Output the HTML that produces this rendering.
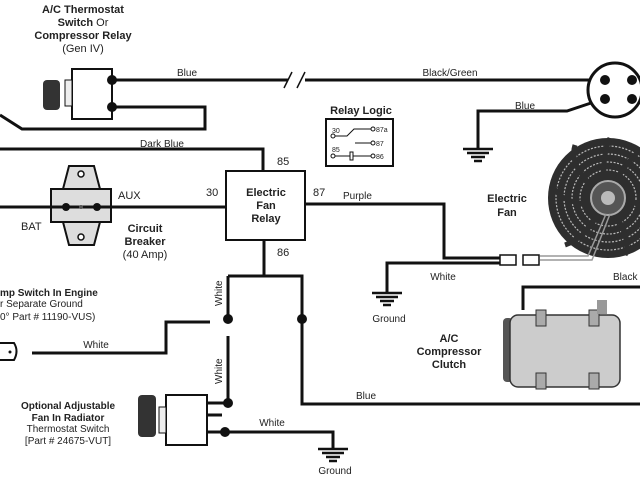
<!DOCTYPE html>
<html><head><style>
html,body{margin:0;padding:0;background:#fff}
svg{display:block}
text{font-family:"Liberation Sans",sans-serif;fill:#222}
.b{font-weight:bold}
</style></head><body>
<svg width="640" height="480" viewBox="0 0 640 480" xmlns="http://www.w3.org/2000/svg">
<g font-size="11" text-anchor="middle">
<text x="83" y="13" class="b">A/C Thermostat</text>
<text x="83" y="26"><tspan class="b">Switch</tspan> Or</text>
<text x="83" y="39" class="b">Compressor Relay</text>
<text x="83" y="52">(Gen IV)</text>
</g>
<g stroke="#111" stroke-width="3" fill="none">
<path d="M112 80H288M305 80H600"/>
<path d="M112 107H205V129H22L0 115"/>
<path d="M0 149H263V171"/>
<path d="M0 207H226"/>
<path d="M305 204H444V258H500"/>
<path d="M500 263H387V292"/>
<path d="M600 100L567 111H478V148"/>
<path d="M264 240V276M228 276H302V404H640"/>
<path d="M228 276V319M228 336V403H207"/>
<path d="M210 322H166V353H32"/>
<path d="M207 432H333V448"/>
<path d="M207 415H222"/>
<path d="M523 310V287H640"/>
</g>
<g stroke="#111" stroke-width="1.5"><path d="M284 88L292 72M297 88L305 72"/></g>
<rect x="72" y="69" width="40" height="50" fill="#fff" stroke="#111" stroke-width="2"/>
<rect x="65" y="80" width="7" height="26" fill="#eee" stroke="#111"/>
<rect x="43" y="80" width="17" height="30" rx="4" fill="#333"/>
<circle cx="112" cy="80" r="5" fill="#111"/><circle cx="112" cy="107" r="5" fill="#111"/>
<text x="187" y="76" font-size="10" text-anchor="middle">Blue</text>
<text x="450" y="76" font-size="10" text-anchor="middle">Black/Green</text>
<text x="162" y="147" font-size="10" text-anchor="middle">Dark Blue</text>
<path d="M63 189L69 166H94L100 189ZM63 222L69 245H94L100 222Z" fill="#ddd" stroke="#111" stroke-width="2"/>
<circle cx="81" cy="174" r="3" fill="#fff" stroke="#111" stroke-width="1.5"/>
<circle cx="81" cy="237" r="3" fill="#fff" stroke="#111" stroke-width="1.5"/>
<rect x="51" y="189" width="60" height="33" fill="#ddd" stroke="#111" stroke-width="2"/>
<path d="M51 207H111" stroke="#111" stroke-width="3"/>
<circle cx="66" cy="207" r="4" fill="#111"/><circle cx="97" cy="207" r="4" fill="#111"/><circle cx="81" cy="207" r="2" fill="#555"/>
<text x="118" y="199" font-size="11">AUX</text>
<text x="21" y="230" font-size="11">BAT</text>
<g font-size="11" text-anchor="middle"><text x="145" y="232" class="b">Circuit</text><text x="145" y="245" class="b">Breaker</text><text x="145" y="258">(40 Amp)</text></g>
<rect x="226" y="171" width="79" height="69" fill="#fff" stroke="#111" stroke-width="2"/>
<g font-size="11" text-anchor="middle"><text x="266" y="196" class="b">Electric</text><text x="266" y="209" class="b">Fan</text><text x="266" y="222" class="b">Relay</text></g>
<g font-size="11"><text x="277" y="165">85</text><text x="206" y="196">30</text><text x="313" y="196">87</text><text x="277" y="256">86</text></g>
<text x="343" y="199" font-size="10">Purple</text>
<text x="361" y="114" font-size="11" class="b" text-anchor="middle">Relay Logic</text>
<rect x="326" y="119" width="67" height="47" fill="#fff" stroke="#111" stroke-width="2"/>
<g stroke="#111" stroke-width="1" fill="#fff">
<circle cx="333" cy="136" r="2"/><path d="M335 136H347L354 129H371"/><circle cx="373" cy="129" r="2"/>
<path d="M355 143H371"/><circle cx="373" cy="143" r="2"/>
<circle cx="333" cy="156" r="2"/><path d="M335 156H350M353 156H371"/><rect x="350" y="152" width="3" height="8"/><circle cx="373" cy="156" r="2"/>
</g>
<g font-size="7"><text x="332" y="133">30</text><text x="332" y="152">85</text><text x="376" y="132">87a</text><text x="376" y="146">87</text><text x="376" y="159">86</text></g>
<circle cx="615" cy="90" r="27" fill="#fff" stroke="#111" stroke-width="3"/>
<circle cx="605" cy="80" r="5" fill="#111"/><circle cx="632" cy="80" r="5" fill="#111"/><circle cx="605" cy="99" r="5" fill="#111"/><circle cx="632" cy="99" r="5" fill="#111"/>
<text x="525" y="109" font-size="10" text-anchor="middle">Blue</text>
<g stroke="#111" stroke-width="2.5">
<path d="M463 149H493M467 153H489M471 157H485M474 161H482"/>
<path d="M372 293H402M376 297H398M380 301H394M383 305H391"/>
<path d="M318 449H348M322 453H344M326 457H340M329 461H337"/>
</g>
<text x="389" y="322" font-size="10" text-anchor="middle">Ground</text>
<text x="335" y="474" font-size="10" text-anchor="middle">Ground</text>
<text x="443" y="280" font-size="10" text-anchor="middle">White</text>
<circle cx="608" cy="198" r="60" fill="#2e2e2e"/>
<g stroke="#bbb" stroke-width="1.2" fill="none" stroke-dasharray="2 1.5">
<circle cx="608" cy="198" r="52"/><circle cx="608" cy="198" r="44"/><circle cx="608" cy="198" r="36"/><circle cx="608" cy="198" r="28"/>
</g>
<g stroke="#2e2e2e" stroke-width="5" fill="none">
<path d="M608 198C620 170 630 160 640 150M608 198C580 180 570 160 575 145M608 198C580 210 560 200 552 185M608 198C590 230 580 240 565 245M608 198C625 230 630 245 625 255M608 198C640 200 650 210 660 225M608 198C600 170 605 150 610 138"/>
</g>
<circle cx="608" cy="198" r="17" fill="#555" stroke="#aaa" stroke-width="2"/>
<circle cx="608" cy="198" r="7" fill="#bbb"/>
<path d="M606 214L588 256H540M610 214L592 260H540" stroke="#999" stroke-width="1.5" fill="none"/>
<g font-size="11" text-anchor="middle"><text x="507" y="202" class="b">Electric</text><text x="507" y="216" class="b">Fan</text></g>
<rect x="500" y="255" width="16" height="10" fill="#fff" stroke="#111" stroke-width="1.5"/>
<rect x="523" y="255" width="16" height="10" fill="#fff" stroke="#111" stroke-width="1.5"/>
<text x="613" y="280" font-size="10">Black</text>
<rect x="503" y="318" width="10" height="64" rx="4" fill="#555"/>
<rect x="510" y="315" width="110" height="72" rx="8" fill="#ccc" stroke="#333" stroke-width="1.5"/>
<rect x="536" y="310" width="10" height="16" fill="#aaa" stroke="#333"/>
<rect x="589" y="310" width="10" height="16" fill="#aaa" stroke="#333"/>
<rect x="536" y="373" width="10" height="16" fill="#aaa" stroke="#333"/>
<rect x="589" y="373" width="10" height="16" fill="#aaa" stroke="#333"/>
<rect x="597" y="300" width="10" height="14" fill="#999"/>
<g font-size="11" text-anchor="middle"><text x="449" y="342" class="b">A/C</text><text x="449" y="355" class="b">Compressor</text><text x="449" y="368" class="b">Clutch</text></g>
<text x="366" y="399" font-size="10" text-anchor="middle">Blue</text>
<circle cx="228" cy="319" r="5" fill="#111"/><circle cx="302" cy="319" r="5" fill="#111"/>
<circle cx="228" cy="403" r="5" fill="#111"/><circle cx="225" cy="432" r="5" fill="#111"/>
<text font-size="10" transform="translate(222,306) rotate(-90)">White</text>
<text font-size="10" transform="translate(222,384) rotate(-90)">White</text>
<text x="96" y="348" font-size="10" text-anchor="middle">White</text>
<text x="272" y="426" font-size="10" text-anchor="middle">White</text>
<path d="M0 343H14Q19 351 14 360H0" fill="#fff" stroke="#111" stroke-width="2"/>
<circle cx="10" cy="352" r="1.5" fill="#111"/>
<g font-size="10"><text x="0" y="296" class="b">mp Switch In Engine</text><text x="0" y="307">r Separate Ground</text><text x="0" y="320">0° Part # 11190-VUS)</text></g>
<rect x="166" y="395" width="41" height="50" fill="#fff" stroke="#111" stroke-width="2"/>
<rect x="159" y="407" width="7" height="26" fill="#eee" stroke="#111"/>
<rect x="138" y="395" width="18" height="42" rx="4" fill="#333"/>
<g font-size="10" text-anchor="middle"><text x="68" y="409" class="b">Optional Adjustable</text><text x="68" y="421" class="b">Fan In Radiator</text><text x="68" y="432">Thermostat Switch</text><text x="68" y="444">[Part # 24675-VUT]</text></g>
</svg>
</body></html>
